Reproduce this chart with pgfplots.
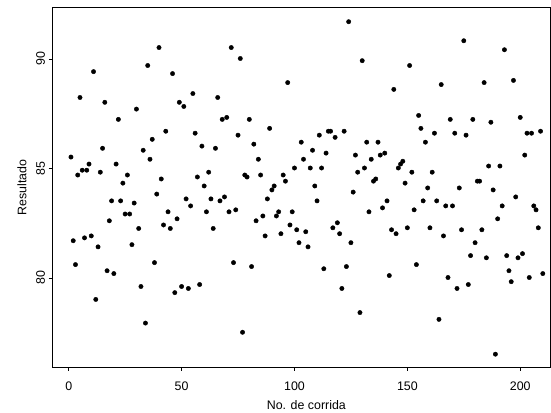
\documentclass[border=0pt]{standalone}
\usepackage{fontspec}
\setmainfont{Liberation Sans}
\usepackage{pgfplots}
\pgfplotsset{compat=1.18}
\usepackage{pgfplotstable}

\pgfplotstableread{
corrida resultado
1 85.52
2 81.70
3 80.61
4 84.70
5 88.24
6 84.92
7 81.83
8 84.92
9 85.20
10 81.92
11 89.42
12 79.02
13 81.42
14 84.83
15 85.92
16 88.02
17 80.33
18 82.61
19 83.52
20 80.20
21 85.20
22 87.24
23 83.52
24 84.33
25 82.92
26 84.70
27 82.92
28 81.52
29 83.42
30 87.71
31 82.26
32 79.61
33 85.83
34 77.94
35 89.70
36 85.42
37 86.33
38 80.70
39 83.83
40 90.52
41 84.52
42 82.42
43 86.70
44 83.02
45 82.26
46 89.33
47 79.33
48 82.70
49 88.02
50 79.61
51 87.83
52 83.61
53 79.52
54 83.29
55 88.42
56 86.61
57 84.61
58 79.70
59 86.02
60 84.20
61 83.02
62 84.83
63 83.61
64 82.26
65 85.92
66 88.24
67 83.52
68 87.24
69 83.70
70 87.33
71 83.02
72 90.52
73 80.70
74 83.11
75 86.52
76 90.02
77 77.52
78 84.70
79 84.61
80 87.24
81 80.52
82 86.11
83 82.61
84 85.42
85 84.70
86 82.83
87 81.92
88 83.61
89 86.83
90 84.02
91 84.20
92 82.83
93 83.02
94 82.02
95 84.70
96 84.42
97 88.92
98 82.42
99 83.02
100 85.02
101 82.20
102 81.61
103 86.20
104 85.42
105 82.11
106 81.42
107 85.02
108 85.83
109 84.20
110 83.52
111 86.52
112 85.02
113 80.42
114 85.70
115 86.70
116 86.70
117 82.29
118 86.42
119 82.52
120 82.02
121 79.52
122 86.70
123 80.52
124 91.70
125 81.61
126 83.92
127 85.61
128 84.83
129 78.42
130 89.92
131 85.02
132 86.20
133 83.02
134 85.42
135 84.42
136 84.52
137 86.20
138 85.61
139 83.20
140 85.70
141 83.52
142 80.11
143 82.20
144 88.61
145 82.02
146 85.02
147 85.20
148 85.33
149 84.33
150 82.29
151 89.70
152 84.83
153 83.11
154 80.61
155 87.42
156 86.83
157 83.52
158 86.20
159 84.11
160 82.29
161 84.83
162 86.61
163 83.52
164 78.11
165 88.83
166 81.92
167 83.29
168 80.02
169 87.24
170 83.29
171 86.61
172 79.52
173 84.11
174 82.20
175 90.83
176 86.52
177 79.70
178 81.02
179 87.24
180 81.61
181 84.42
182 84.42
183 82.20
184 88.92
185 80.92
186 85.11
187 87.11
188 84.02
189 76.52
190 82.70
191 85.11
192 83.29
193 90.42
194 81.02
195 80.33
196 79.83
197 89.02
198 83.70
199 80.92
200 87.33
201 81.11
202 85.61
203 86.61
204 80.02
205 86.61
206 83.29
207 83.11
208 82.29
209 86.70
210 80.20
}\corridas

\begin{document}
\begin{tikzpicture}
\begin{axis}[
  at={(0,0)}, anchor=south west,
  scale only axis,
  width=500.7bp, height=361.2bp,
  xmin=-7.365, xmax=213.45,
  ymin=75.93, ymax=92.35,
  xtick={0,50,100,150,200},
  ytick={80,85,90},
  xtick pos=bottom, ytick pos=left,
  tick align=outside,
  major tick length=3.5bp,
  axis line style={line width=0.8bp},
  every tick/.style={black, line width=0.8bp},
  /pgf/number format/assume math mode=true,
  tick label style={font=\fontsize{12.5}{14}\selectfont},
  xticklabel shift=8bp,
  yticklabel style={rotate=90, anchor=south},
  label style={font=\fontsize{12.5}{14}\selectfont},
  xlabel={No. de corrida},
  ylabel={Resultado},
  x label style={at={(axis description cs:0.51,-0.105)}, anchor=center},
  y label style={at={(axis description cs:-0.0605,0.5)}, anchor=center, rotate=0},
]
\addplot[only marks, mark=*, mark size=2.2bp, black] table[x=corrida, y=resultado] {\corridas};
\end{axis}
\useasboundingbox (-52.3bp,-45.5bp) rectangle (498.7bp,368.7bp);
\end{tikzpicture}
\end{document}
